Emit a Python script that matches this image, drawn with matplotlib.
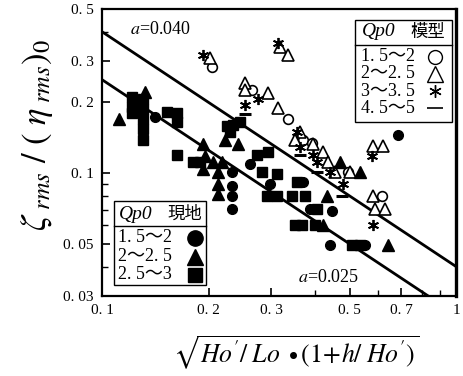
import numpy as np
import matplotlib
matplotlib.use("Agg")
import matplotlib.pyplot as plt
from matplotlib.patches import Rectangle
from matplotlib.lines import Line2D

plt.rcParams['font.family'] = ['Liberation Serif', 'Noto Sans CJK JP', 'DejaVu Sans']
plt.rcParams['mathtext.fontset'] = 'stix'

# 模型 (open markers)
m_circle_x = [0.2045, 0.265, 0.335, 0.370, 0.392, 0.495, 0.618]
m_circle_y = [0.284, 0.227, 0.170, 0.139, 0.135, 0.1015, 0.080]
m_tri_x = [0.202, 0.318, 0.335, 0.2535, 0.2535, 0.294, 0.314, 0.3625, 0.351,
           0.3945, 0.421, 0.435, 0.455, 0.502, 0.583, 0.622, 0.583, 0.590, 0.630]
m_tri_y = [0.310, 0.345, 0.319, 0.243, 0.227, 0.220, 0.190, 0.149, 0.139,
           0.133, 0.1227, 0.112, 0.1015, 0.1015, 0.130, 0.130, 0.080, 0.0704, 0.0704]
m_star_x = [0.193, 0.314, 0.2535, 0.276, 0.3555, 0.3625, 0.3945, 0.405, 0.4405,
            0.4795, 0.579, 0.583]
m_star_y = [0.319, 0.359, 0.196, 0.206, 0.149, 0.129, 0.120, 0.112, 0.1015,
            0.0898, 0.118, 0.0602]
m_dash_x = [0.2535, 0.3625, 0.405, 0.476]
m_dash_y = [0.178, 0.120, 0.1015, 0.080]

# 現地 (filled markers)
f_circle_x = [0.141, 0.233, 0.233, 0.233, 0.233, 0.262, 0.298, 0.370, 0.387,
              0.446, 0.4405, 0.553, 0.686]
f_circle_y = [0.174, 0.1015, 0.0881, 0.080, 0.0704, 0.109, 0.0898, 0.0916, 0.0704,
              0.069, 0.0495, 0.0495, 0.146]
f_tri_x = [0.1117, 0.132, 0.193, 0.193, 0.206, 0.218, 0.213, 0.213, 0.213,
           0.223, 0.242, 0.195, 0.432, 0.421, 0.643, 0.5355, 0.470]
f_tri_y = [0.170, 0.2226, 0.133, 0.104, 0.112, 0.112, 0.1015, 0.0898, 0.0815,
           0.139, 0.133, 0.118, 0.080, 0.0602, 0.0495, 0.1015, 0.112]
f_sq_x = [0.1215, 0.1215, 0.1215, 0.1306, 0.1306, 0.1306, 0.1306, 0.1306,
          0.153, 0.163, 0.163, 0.163, 0.181, 0.189, 0.2255, 0.2345, 0.245, 0.230,
          0.274, 0.294, 0.283, 0.312, 0.2925, 0.312, 0.344, 0.3745, 0.3555,
          0.351, 0.367, 0.400, 0.508, 0.5355, 0.405]
f_sq_y = [0.212, 0.192, 0.180, 0.206, 0.187, 0.170, 0.154, 0.139,
          0.183, 0.181, 0.1645, 0.120, 0.112, 0.112, 0.158, 0.161, 0.1645, 0.149,
          0.120, 0.1227, 0.1015, 0.099, 0.080, 0.080, 0.080, 0.080, 0.0916,
          0.0602, 0.0602, 0.0602, 0.0495, 0.0495, 0.0704]

# 直線 ζ = a / x
a_values = [0.040, 0.025]
line_x = [0.1, 1.0]

x_ticks = [0.1, 0.2, 0.3, 0.5, 0.7, 1.0]
x_labels = ['0. 1', '0. 2', '0. 3', '0. 5', '0. 7', '1']
y_ticks = [0.03, 0.05, 0.1, 0.2, 0.3, 0.5]
y_labels = ['0. 03', '0. 05', '0. 1', '0. 2', '0. 3', '0. 5']

asterisk = (6, 2, 0)

fig = plt.figure(figsize=(4.64, 3.76), dpi=100)
ax = fig.add_axes([0.220, 0.213, 0.763, 0.763])
ax.set_xscale('log')
ax.set_yscale('log')
ax.set_xlim(0.1, 1.0)
ax.set_ylim(0.03, 0.5)

for a in a_values:
    xs = np.array(line_x)
    ax.plot(xs, a / xs, color='black', lw=2.0, zorder=2)

open_kw = dict(ls='none', mfc='white', mec='black', mew=1.2, zorder=3)
ax.plot(m_circle_x, m_circle_y, marker='o', ms=7, **open_kw)
ax.plot(m_tri_x, m_tri_y, marker='^', ms=8, **open_kw)
ax.plot(m_star_x, m_star_y, marker=asterisk, ms=8, ls='none', color='black', mew=1.3, zorder=3)
ax.plot(m_dash_x, m_dash_y, marker='_', ms=8, ls='none', color='black', mew=2.2, zorder=3)

fill_kw = dict(ls='none', color='black', zorder=4)
ax.plot(f_circle_x, f_circle_y, marker='o', ms=7, **fill_kw)
ax.plot(f_tri_x, f_tri_y, marker='^', ms=8, **fill_kw)
ax.plot(f_sq_x, f_sq_y, marker='s', ms=7, **fill_kw)

ax.set_xticks(x_ticks)
ax.set_xticklabels(x_labels)
ax.set_yticks(y_ticks)
ax.set_yticklabels(y_labels)
ax.tick_params(which='both', direction='in', top=False, right=False, labelsize=11)
ax.tick_params(axis='x', which='major', length=6, width=1.2, pad=6)
ax.tick_params(axis='y', which='major', length=6, width=1.2, pad=6)
ax.tick_params(which='minor', length=4, width=1.0, labelbottom=False, labelleft=False)
for s in ax.spines.values():
    s.set_linewidth(1.6)
ax.spines['right'].set_linewidth(2.4)

ax.text(0.079, 0.927, r'$a$=0.040', transform=ax.transAxes, fontsize=13, va='center')
ax.text(0.554, 0.063, r'$a$=0.025', transform=ax.transAxes, fontsize=13, va='center')

def legend_box(x0, y0, x1, y1, yline, yhead, xq, xkanji, kanji, rows_y, labels, markers, xtext, xmark):
    ax.add_patch(Rectangle((x0, y0), x1 - x0, y1 - y0, transform=ax.transAxes,
                           fc='white', ec='black', lw=1.0, zorder=6))
    ax.add_line(Line2D([x0, x1], [yline, yline], transform=ax.transAxes,
                       color='black', lw=1.0, zorder=7))
    ax.text(xq, yhead, 'Qp0', style='italic', transform=ax.transAxes,
            fontsize=14, va='center', zorder=7)
    ax.text(xkanji, yhead, kanji, transform=ax.transAxes, fontsize=12.5,
            va='center', family=['Noto Sans CJK JP'], zorder=7)
    for yy, lab, mk in zip(rows_y, labels, markers):
        ax.text(xtext, yy, lab, transform=ax.transAxes, fontsize=13,
                va='center', family=['Liberation Serif', 'Noto Sans CJK JP'], zorder=7)
        ax.plot([xmark], [yy], transform=ax.transAxes, clip_on=False, zorder=8, **mk)

model_labels = ['1. 5～2', '2～2. 5', '3～3. 5', '4. 5～5']
model_marks = [dict(marker='o', ms=10, mfc='white', mec='black', mew=1.0),
               dict(marker='^', ms=11, mfc='white', mec='black', mew=1.0),
               dict(marker=asterisk, ms=9, color='black', mew=1.0),
               dict(marker='_', ms=11, color='black', mew=1.2)]
legend_box(0.715, 0.606, 0.989, 0.962, 0.875, 0.920, 0.733, 0.870, '模型',
           [0.833, 0.774, 0.714, 0.655], model_labels, model_marks, 0.730, 0.941)

field_labels = ['1. 5～2', '2～2. 5', '2. 5～3']
field_marks = [dict(marker='o', ms=11, color='black'),
               dict(marker='^', ms=11, color='black'),
               dict(marker='s', ms=10, color='black')]
legend_box(0.034, 0.038, 0.294, 0.331, 0.244, 0.285, 0.048, 0.184, '現地',
           [0.202, 0.136, 0.073], field_labels, field_marks, 0.045, 0.263)

fig.text(0.638, 0.062,
         r"$\sqrt{Ho'/\;Lo\;\bullet(1\!+\!h/\;Ho')}$",
         ha='center', va='center', fontsize=18.5)
fig.text(0.080, 0.64, r'$\zeta_{\ rms}\ /\ (\ \eta_{\ rms})_0$',
         rotation=90, ha='center', va='center', fontsize=25)

fig.savefig('out.png', dpi=100)
